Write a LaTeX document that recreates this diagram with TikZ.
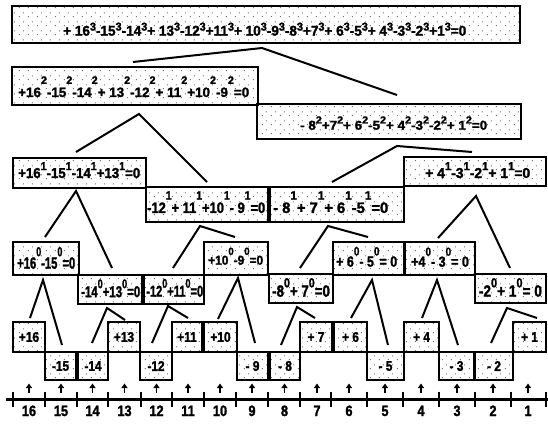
\documentclass[tikz,border=0pt]{standalone}
\usepackage{fontspec}
\usepackage{graphicx}
\newfontfamily\eqf{Liberation Sans}[UprightFont={* Bold}, FakeStretch=0.85, FakeBold=1.6]
\usetikzlibrary{arrows.meta,patterns.meta,fit}
\tikzdeclarepattern{
  name=sparsedots,
  type=uncolored,
  bounding box={(0pt,0pt) and (9pt,9pt)},
  tile size={(9pt,9pt)},
  code={\fill (1pt,1pt) rectangle (2pt,2pt); \fill (5.5pt,5pt) rectangle (6.5pt,6pt);}
}
\newcommand\eq[4]{\resizebox{#1pt}{#2pt}{\def\rs{#3}\eqf\fontsize{10}{10}\selectfont #4}}
\newcommand\ex[1]{\raisebox{\rs pt}{\fontsize{8}{8}\selectfont #1}}
\tikzset{
  eqbox/.style={draw, line width=2.6pt, pattern=sparsedots, pattern color=black!55, inner sep=0pt, outer sep=0pt},
  eqtxt/.style={anchor=south west, inner sep=0pt},
  sqlab/.style={inner sep=0pt, font=\eqf\fontsize{14}{14}\selectfont},
  numlab/.style={anchor=base, inner sep=0pt, font=\eqf\fontsize{15}{15}\selectfont},
  conn/.style={line width=2pt},
  tick/.style={line width=2pt},
  uparrow/.style={line width=1.6pt, -{Triangle[width=6pt,length=4.5pt]}}
}
\begin{document}
\begin{tikzpicture}[x=1pt,y=-1pt]
\useasboundingbox (0,0) rectangle (548,423);
% level 3
\node[eqbox, fit={(12,6) (520,43)}] (T) {};
\node[eqtxt] (Tt) at (63,36) {\eq{403}{13}{3.6}{+ 16\ex3-15\ex3-14\ex3+ 13\ex3-12\ex3+11\ex3+ 10\ex3-9\ex3-8\ex3+7\ex3+ 6\ex3-5\ex3+ 4\ex3-3\ex3-2\ex3+1\ex3=0}};
% level 2
\node[eqbox, fit={(12,67) (258,105)}] (A) {};
\node[eqtxt] (At) at (18,97.3) {\eq{231}{20.6}{9.7}{+16\ex2-15\ex2-14\ex2+ 13\ex2-12\ex2+ 11\ex2+10\ex2-9\ex2=0}};
\node[eqbox, fit={(257,104) (521,139)}] (B) {};
\node[eqtxt] (Bt) at (300,130) {\eq{187}{13.3}{4.9}{- 8\ex2+7\ex2+ 6\ex2-5\ex2+ 4\ex2-3\ex2-2\ex2+ 1\ex2=0}};
% level 1
\node[eqbox, fit={(13,158) (146,188)}] (Aa) {};
\node[eqtxt] (Aat) at (18,178.3) {\eq{122}{15.7}{5.5}{+16\ex1-15\ex1-14\ex1+13\ex1=0}};
\node[eqbox, fit={(146,187) (268,222)}] (Ab) {};
\node[eqtxt] (Abt) at (147,213.3) {\eq{118}{21.7}{8.9}{-12\ex1+ 11\ex1+10\ex1- 9\ex1=0}};
\node[eqbox, fit={(270,187) (404,222)}] (Ba) {};
\node[eqtxt] (Bat) at (273,213.3) {\eq{115}{21.7}{8.9}{- 8\ex1+ 7\ex1+ 6\ex1-5\ex1=0}};
\node[eqbox, fit={(404,157) (546,186)}] (Bb) {};
\node[eqtxt] (Bbt) at (425,178.3) {\eq{105}{15.7}{5.5}{+ 4\ex1-3\ex1-2\ex1+ 1\ex1=0}};
% level 0
\node[eqbox, fit={(13,242) (79,275)}] (Z1) {};
\node[eqtxt] (Z1t) at (17,269) {\eq{58}{21.5}{7.6}{+16\ex0-15\ex0=0}};
\node[eqbox, fit={(78,275) (142,304)}] (Z2) {};
\node[eqtxt] (Z2t) at (81,297.5) {\eq{59}{17.7}{5.7}{-14\ex0+13\ex0=0}};
\node[eqbox, fit={(144,275) (204,304)}] (Z3) {};
\node[eqtxt] (Z3t) at (146,297) {\eq{57}{17.7}{5.7}{-12\ex0+11\ex0=0}};
\node[eqbox, fit={(204,242) (268,275)}] (Z4) {};
\node[eqtxt] (Z4t) at (208,265) {\eq{55}{17}{7.6}{+10\ex0-9\ex0=0}};
\node[eqbox, fit={(269,274) (333,303)}] (Z5) {};
\node[eqtxt] (Z5t) at (272,297) {\eq{57.7}{18.4}{5.7}{-8\ex0+ 7\ex0=0}};
\node[eqbox, fit={(333,242) (404,275)}] (Z6) {};
\node[eqtxt] (Z6t) at (336,267) {\eq{61}{19.5}{7.6}{+ 6\ex0- 5\ex0= 0}};
\node[eqbox, fit={(405,242) (475,275)}] (Z7) {};
\node[eqtxt] (Z7t) at (411,267) {\eq{57.7}{19}{7.6}{+4\ex0- 3\ex0= 0}};
\node[eqbox, fit={(475,274) (546,303)}] (Z8) {};
\node[eqtxt] (Z8t) at (478.7,297) {\eq{63}{18.4}{5.7}{-2\ex0+ 1\ex0= 0}};
% single terms
\foreach \n/\a/\b/\c/\d/\t in {16/13/322/45/352/+16, 15/45/352/76/380/-15, 14/78/352/108/380/-14, 13/108/322/140/352/+13,
  12/140/352/172/380/-12, 11/172/322/202/352/+11, 10/204/322/237/352/+10, 9/237/352/268/380/- 9,
  8/270/352/300/380/- 8, 7/300/322/332/352/+ 7, 6/334/322/367/352/+ 6, 5/367/352/404/380/- 5,
  4/404/322/439/352/+ 4, 3/439/352/474/380/- 3, 2/475/352/513/380/- 2, 1/513/322/546/352/+ 1}{
  \node[eqbox, fit={(\a,\b) (\c,\d)}] (s\n) {};
  \node[sqlab] (l\n) at (s\n.center) {\t};
}
% connectors
\coordinate (Tap) at (262,48); \coordinate (Tl) at (133,62); \coordinate (Tr) at (397,95);
\coordinate (Aap) at (139,114); \coordinate (Al) at (76,152); \coordinate (Ar) at (207,182);
\coordinate (Bap) at (397,146); \coordinate (Bl) at (332,182); \coordinate (Br) at (472,152);
\coordinate (Aaap) at (76,191); \coordinate (Aal) at (45,237); \coordinate (Aar) at (112,268);
\coordinate (Abap) at (200,226); \coordinate (Abl) at (173,268); \coordinate (Abr) at (235,237);
\coordinate (Baap) at (328,226); \coordinate (Bal) at (300,268); \coordinate (Bar) at (368,237);
\coordinate (Bbap) at (476,196); \coordinate (Bbl) at (438,238); \coordinate (Bbr) at (510,268);
\coordinate (Z1ap) at (43,280); \coordinate (Z1l) at (30,318); \coordinate (Z1r) at (62,345);
\coordinate (Z2ap) at (107,308); \coordinate (Z2l) at (92,343); \coordinate (Z2r) at (125,320);
\coordinate (Z3ap) at (168,306); \coordinate (Z3l) at (152,343); \coordinate (Z3r) at (188,318);
\coordinate (Z4ap) at (238,278); \coordinate (Z4l) at (218,319); \coordinate (Z4r) at (255,343);
\coordinate (Z5ap) at (297,307); \coordinate (Z5l) at (281,345); \coordinate (Z5r) at (315,318);
\coordinate (Z6ap) at (372,280); \coordinate (Z6l) at (351,318); \coordinate (Z6r) at (388,345);
\coordinate (Z7ap) at (437,280); \coordinate (Z7l) at (422,318); \coordinate (Z7r) at (458,345);
\coordinate (Z8ap) at (507,308); \coordinate (Z8l) at (491,343); \coordinate (Z8r) at (537,318);
\foreach \k in {T,A,B,Aa,Ab,Ba,Bb,Z1,Z2,Z3,Z4,Z5,Z6,Z7,Z8}{
  \draw[conn] (\k l) -- (\k ap) -- (\k r);
}
% number line
\coordinate (NL) at (6,399); \coordinate (NR) at (548,399);
\draw[line width=3pt] (NL) -- (NR);
\foreach \x in {13,45,77,108,141,172,204,236,268,300,331,367,403,439,475,511,546}{
  \draw[tick] (\x,391.5) -- (\x,406.5);
}
\foreach \x/\n in {29/16, 61/15, 92.5/14, 124.5/13, 156.5/12, 188/11, 220/10, 252/9,
  284.5/8, 317/7, 349/6, 385/5, 421/4, 457/3, 493/2, 528/1}{
  \coordinate (ab\n) at (\x,393);
  \coordinate (at\n) at (\x,383.5);
  \draw[uparrow] (ab\n) -- (at\n);
  \node[numlab] (n\n) at (\x,416) {\n};
}
\end{tikzpicture}
\end{document}
